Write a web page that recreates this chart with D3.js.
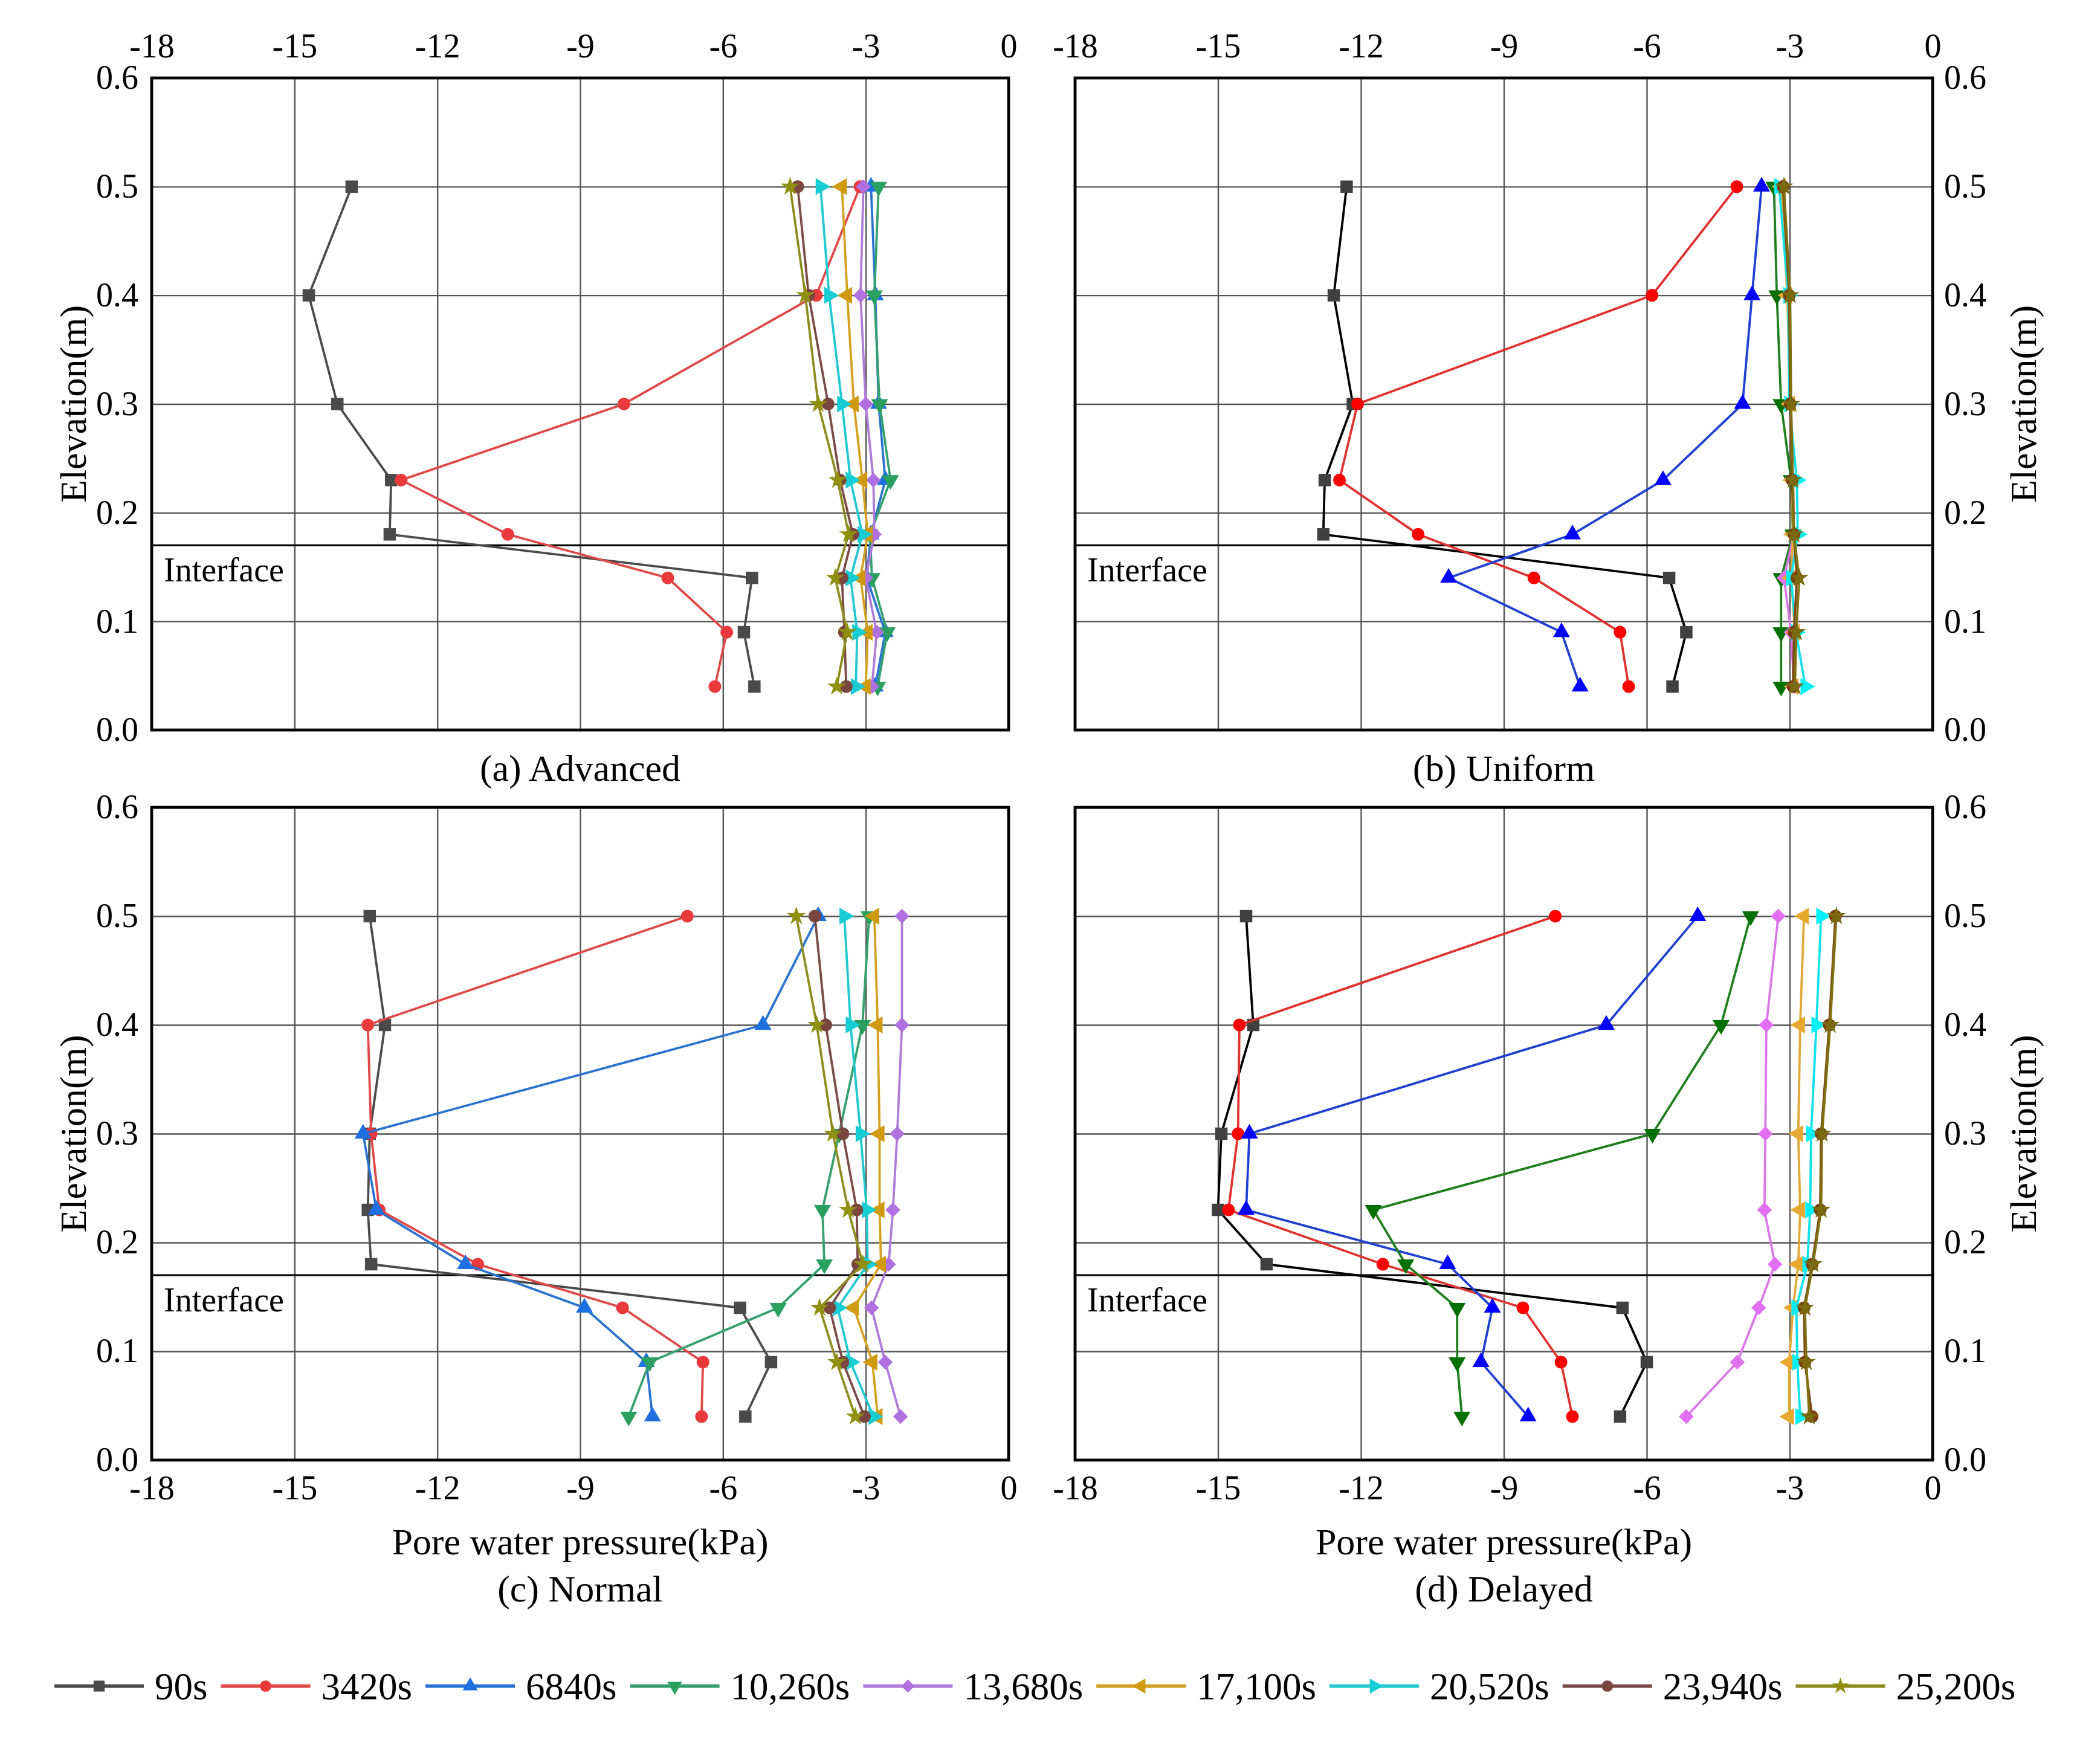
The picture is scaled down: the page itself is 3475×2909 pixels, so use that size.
<!DOCTYPE html>
<html>
<head>
<meta charset="utf-8">
<script src="https://cdn.jsdelivr.net/npm/d3@7"></script>
<style>
  body { margin: 0; background: #fff; }
</style>
</head>
<body>
<svg id="chart"></svg>
<script>
const seriesNames = ["90s", "3420s", "6840s", "10,260s", "13,680s", "17,100s", "20,520s", "23,940s", "25,200s"];
const elevations = [0.5, 0.4, 0.3, 0.23, 0.18, 0.14, 0.09, 0.04];
const xTicks = [-18, -15, -12, -9, -6, -3, 0];
const yTicks = [0, 0.1, 0.2, 0.3, 0.4, 0.5, 0.6];
const interfaceLevel = 0.17;

// pore water pressure (kPa) per series, one value per elevation
const advancedValues = [
  [-13.8, -14.7, -14.1, -12.97, -13.0, -5.39, -5.56, -5.34],
  [-3.12, -4.04, -8.08, -12.76, -10.52, -7.16, -5.92, -6.17],
  [-2.89, -2.8, -2.73, -2.59, -2.89, -2.98, -2.59, -2.8],
  [-2.73, -2.82, -2.71, -2.48, -2.91, -2.87, -2.55, -2.75],
  [-3.05, -3.11, -3.0, -2.84, -2.82, -3.0, -2.77, -2.87],
  [-3.5, -3.39, -3.25, -3.07, -2.96, -3.11, -2.96, -3.0],
  [-3.95, -3.77, -3.5, -3.32, -3.07, -3.32, -3.18, -3.21],
  [-4.43, -4.2, -3.79, -3.54, -3.27, -3.5, -3.45, -3.41],
  [-4.59, -4.27, -4.0, -3.59, -3.36, -3.64, -3.39, -3.61]
];
const uniformValues = [
  [-12.3, -12.57, -12.17, -12.76, -12.79, -5.53, -5.17, -5.46],
  [-4.11, -5.89, -12.07, -12.45, -10.8, -8.37, -6.56, -6.38],
  [-3.59, -3.79, -3.99, -5.66, -7.56, -10.16, -7.79, -7.4],
  [-3.33, -3.27, -3.18, -2.97, -2.93, -3.18, -3.18, -3.18],
  [-3.16, -3.03, -3.0, -2.93, -2.91, -3.12, -2.97, -2.91],
  [-3.18, -3.05, -2.99, -2.95, -2.93, -2.97, -2.89, -2.92],
  [-3.22, -3.03, -3.01, -2.85, -2.83, -2.97, -2.87, -2.67],
  [-3.14, -3.01, -2.99, -2.95, -2.91, -2.85, -2.91, -2.93],
  [-3.12, -2.99, -2.97, -2.93, -2.91, -2.8, -2.86, -2.89]
];
const normalValues = [
  [-13.42, -13.1, -13.42, -13.46, -13.39, -5.64, -4.99, -5.53],
  [-6.75, -13.46, -13.39, -13.22, -11.15, -8.11, -6.42, -6.45],
  [-4.0, -5.16, -13.56, -13.28, -11.41, -8.91, -7.61, -7.48],
  [-2.93, -3.07, -3.56, -3.91, -3.87, -4.84, -7.54, -7.98],
  [-2.24, -2.24, -2.34, -2.43, -2.52, -2.88, -2.59, -2.27],
  [-2.82, -2.75, -2.71, -2.71, -2.68, -3.25, -2.86, -2.75],
  [-3.45, -3.32, -3.11, -2.98, -2.96, -3.59, -3.32, -2.84],
  [-4.07, -3.84, -3.48, -3.19, -3.17, -3.76, -3.48, -3.03],
  [-4.46, -4.03, -3.69, -3.37, -3.06, -3.97, -3.61, -3.22]
];
const delayedValues = [
  [-14.41, -14.26, -14.93, -15.0, -13.98, -6.51, -6.0, -6.56],
  [-7.92, -14.55, -14.58, -14.78, -11.54, -8.6, -7.8, -7.56],
  [-4.93, -6.85, -14.34, -14.41, -10.18, -9.24, -9.48, -8.49],
  [-3.82, -4.44, -5.88, -11.74, -11.06, -9.98, -9.98, -9.88],
  [-3.24, -3.49, -3.51, -3.53, -3.31, -3.65, -4.1, -5.17],
  [-2.7, -2.78, -2.82, -2.78, -2.82, -2.93, -3.01, -3.01],
  [-2.34, -2.44, -2.55, -2.57, -2.63, -2.86, -2.84, -2.78],
  [-2.04, -2.17, -2.34, -2.36, -2.53, -2.7, -2.68, -2.53],
  [-2.02, -2.15, -2.32, -2.34, -2.51, -2.68, -2.65, -2.59]
];

// styles
var serif = "'Liberation Serif', 'Times New Roman', serif";
var softLine = ["#4a4a4a", "#e04848", "#2a72d0", "#35a06e", "#b07ad8", "#d4a020", "#22c8d0", "#7a4a46", "#8c8c1e"];
var softMark = ["#4a4a4a", "#e83a3a", "#1e6fe0", "#2aa060", "#b070e0", "#d09a10", "#18ccd4", "#7a4640", "#909010"];
var strongLine = ["#000000", "#e03030", "#1f40d0", "#1e7e1e", "#da78e8", "#e0a838", "#10e0ea", "#7a4a18", "#7f7010"];
var strongMark = ["#404040", "#ff0000", "#0000ff", "#007000", "#e070f0", "#e8a830", "#00f0f8", "#7a3f10", "#7a6a10"];

var rot = [0, 0, 0, 180, 0, -90, 90, 0, 0];
var shapes = [d3.symbolSquare, d3.symbolCircle, d3.symbolTriangle, d3.symbolTriangle,
  d3.symbolDiamond2, d3.symbolTriangle, d3.symbolTriangle, d3.symbolCircle, d3.symbolStar];
var sizes = [420, 350, 340, 340, 380, 340, 340, 350, 300];

var W = 3475, H = 2909;
var svg = d3.select("#chart")
  .attr("width", W).attr("height", H)
  .attr("viewBox", [0, 0, W, H])
  .attr("font-family", serif);

var panels = [
  { values: advancedValues, title: "(a) Advanced", x0: 251, x1: 1669, y0: 129, y1: 1208, side: "left", top: true, line: softLine, mark: softMark },
  { values: uniformValues, title: "(b) Uniform", x0: 1779, x1: 3198, y0: 129, y1: 1208, side: "right", top: true, line: strongLine, mark: strongMark },
  { values: normalValues, title: "(c) Normal", x0: 251, x1: 1669, y0: 1336, y1: 2416, side: "left", top: false, line: softLine, mark: softMark },
  { values: delayedValues, title: "(d) Delayed", x0: 1779, x1: 3198, y0: 1336, y1: 2416, side: "right", top: false, line: strongLine, mark: strongMark }
];

function label(sel, fs) {
  return sel.attr("font-size", fs).attr("font-family", serif).attr("fill", "#000");
}

panels.forEach(function (p) {
  var x = d3.scaleLinear().domain([-18, 0]).range([p.x0, p.x1]);
  var y = d3.scaleLinear().domain([0, 0.6]).range([p.y1, p.y0]);
  var g = svg.append("g");
  var cx = (p.x0 + p.x1) / 2, cy = (p.y0 + p.y1) / 2;

  // grid
  g.append("g")
    .attr("transform", "translate(0," + p.y1 + ")")
    .call(d3.axisBottom(x).tickValues(xTicks).tickSize(-(p.y1 - p.y0)).tickFormat(""))
    .call(s => s.select(".domain").remove())
    .selectAll("line").attr("stroke", "#555").attr("stroke-width", 2.4);
  g.append("g")
    .attr("transform", "translate(" + p.x0 + ",0)")
    .call(d3.axisLeft(y).tickValues(yTicks).tickSize(-(p.x1 - p.x0)).tickFormat(""))
    .call(s => s.select(".domain").remove())
    .selectAll("line").attr("stroke", "#555").attr("stroke-width", 2.4);

  // interface
  g.append("line")
    .attr("x1", p.x0).attr("x2", p.x1)
    .attr("y1", y(interfaceLevel)).attr("y2", y(interfaceLevel))
    .attr("stroke", "#000").attr("stroke-width", 3.2);
  label(g.append("text"), 56)
    .attr("x", p.x0 + 20).attr("y", y(interfaceLevel) + 60)
    .text("Interface");

  // series
  var lineGen = d3.line().x(d => x(d.v)).y(d => y(d.e));
  p.values.forEach(function (vals, i) {
    var pts = vals.map((v, k) => ({ v: v, e: elevations[k] }));
    g.append("path").datum(pts)
      .attr("d", lineGen)
      .attr("fill", "none")
      .attr("stroke", p.line[i])
      .attr("stroke-width", 3.8);
    g.selectAll(null).data(pts).enter().append("path")
      .attr("transform", d => "translate(" + x(d.v) + "," + y(d.e) + ") rotate(" + rot[i] + ")")
      .attr("d", d3.symbol().type(shapes[i]).size(sizes[i]))
      .attr("fill", p.mark[i]);
  });

  // frame
  g.append("rect")
    .attr("x", p.x0).attr("y", p.y0)
    .attr("width", p.x1 - p.x0).attr("height", p.y1 - p.y0)
    .attr("fill", "none").attr("stroke", "#000").attr("stroke-width", 4.8);

  // tick labels
  var xAxis = p.top
    ? d3.axisTop(x).tickPadding(34)
    : d3.axisBottom(x).tickPadding(25);
  var xg = g.append("g")
    .attr("transform", "translate(0," + (p.top ? p.y0 : p.y1) + ")")
    .call(xAxis.tickValues(xTicks).tickSize(0).tickFormat(d => String(d)));
  xg.attr("font-family", serif).select(".domain").remove();
  label(xg.selectAll("text"), 56);

  var yAxis = p.side === "left"
    ? d3.axisLeft(y).tickPadding(22)
    : d3.axisRight(y).tickPadding(19);
  var yg = g.append("g")
    .attr("transform", "translate(" + (p.side === "left" ? p.x0 : p.x1) + ",0)")
    .call(yAxis.tickValues(yTicks).tickSize(0).tickFormat(d3.format(".1f")));
  yg.attr("font-family", serif).select(".domain").remove();
  label(yg.selectAll("text"), 56);

  // axis titles
  var ex = p.side === "left" ? 120 : 3347;
  label(g.append("text"), 62)
    .attr("transform", "translate(" + ex + "," + cy + ") rotate(-90)")
    .attr("text-anchor", "middle").attr("dy", "0.35em")
    .text("Elevation(m)");

  if (p.top) {
    label(g.append("text"), 62).attr("x", cx).attr("y", 1292)
      .attr("text-anchor", "middle").text(p.title);
  } else {
    label(g.append("text"), 62).attr("x", cx).attr("y", 2572)
      .attr("text-anchor", "middle").text("Pore water pressure(kPa)");
    label(g.append("text"), 62).attr("x", cx).attr("y", 2650)
      .attr("text-anchor", "middle").text(p.title);
  }
});

// legend
var legend = svg.append("g");
var lx = 90, ly = 2790;
seriesNames.forEach(function (name, i) {
  legend.append("line")
    .attr("x1", lx).attr("x2", lx + 148)
    .attr("y1", ly).attr("y2", ly)
    .attr("stroke", softLine[i]).attr("stroke-width", 5.5);
  legend.append("path")
    .attr("transform", "translate(" + (lx + 74) + "," + ly + ") rotate(" + rot[i] + ")")
    .attr("d", d3.symbol().type(shapes[i]).size(sizes[i] * 0.8))
    .attr("fill", softMark[i]);
  var t = label(legend.append("text"), 63)
    .attr("x", lx + 166).attr("y", ly).attr("dy", "0.35em")
    .text(name);
  lx = lx + 166 + t.node().getComputedTextLength() + 22;
});
</script>
</body>
</html>
